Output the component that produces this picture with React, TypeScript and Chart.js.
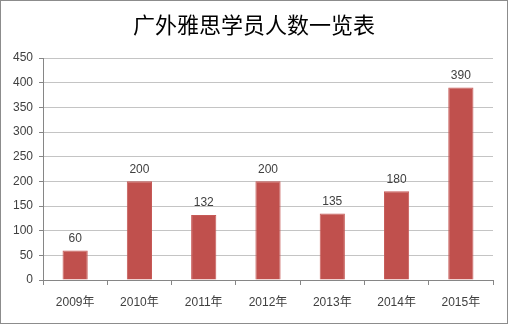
import React, { useEffect, useRef } from "react";
import { Chart, registerables } from "chart.js";

Chart.register(...registerables);

const categories = ["2009年", "2010年", "2011年", "2012年", "2013年", "2014年", "2015年"];
const students = [60, 200, 132, 200, 135, 180, 390];
const titleText = "广外雅思学员人数一览表";
const yMin = 0;
const yMax = 450;
const yStep = 50;

const FONT = '"Liberation Sans", "Noto Sans CJK SC", sans-serif';

const valueLabels = {
  id: "valueLabels",
  afterDatasetsDraw(chart: any) {
    const ctx = chart.ctx;
    const meta = chart.getDatasetMeta(0);
    const data = chart.data.datasets[0].data as number[];
    ctx.save();
    ctx.font = `12px ${FONT}`;
    ctx.fillStyle = "#404040";
    ctx.textAlign = "center";
    ctx.textBaseline = "middle";
    meta.data.forEach((bar: any, i: number) => {
      ctx.fillText(String(data[i]), bar.x, bar.y - 12);
    });
    ctx.restore();
  },
};

const centeredTitle = {
  id: "centeredTitle",
  afterDraw(chart: any) {
    const ctx = chart.ctx;
    ctx.save();
    ctx.font = `22px "Noto Sans CJK SC", sans-serif`;
    ctx.fillStyle = "#000000";
    ctx.textAlign = "center";
    ctx.textBaseline = "middle";
    ctx.fillText(titleText, chart.width / 2, 24);
    ctx.restore();
  },
};

export default function App() {
  const ref = useRef<HTMLCanvasElement>(null);
  useEffect(() => {
    document.body.style.margin = "0";
    const chart = new Chart(ref.current!, {
      type: "bar",
      data: {
        labels: categories,
        datasets: [
          {
            data: students,
            backgroundColor: "#C0504D",
            borderColor: "#C65A57",
            borderWidth: 1,
            categoryPercentage: 0.8,
            barPercentage: 0.49,
          },
        ],
      },
      options: {
        animation: false,
        responsive: false,
        maintainAspectRatio: false,
        layout: { padding: { top: 57, right: 14, left: 0, bottom: 0 } },
        plugins: {
          legend: { display: false },
          tooltip: { enabled: false },
          title: { display: false },
        },
        scales: {
          x: {
            grid: {
              display: true,
              drawOnChartArea: false,
              drawTicks: true,
              tickLength: 5,
              tickColor: "#868686",
              offset: true,
            },
            border: { display: true, color: "#868686", width: 1 },
            ticks: { color: "#404040", font: { family: FONT, size: 12 }, padding: 10, maxRotation: 0 },
            afterFit(scale: any) {
              scale.height = 43;
            },
          },
          y: {
            min: yMin,
            max: yMax,
            ticks: { stepSize: yStep, color: "#404040", font: { family: FONT, size: 12 }, padding: 6 },
            grid: { color: "#c4c4c4", tickColor: "#868686", tickLength: 4 },
            border: { display: true, color: "#868686", width: 1 },
            afterFit(scale: any) {
              scale.width = 42;
            },
          },
        },
      },
      plugins: [valueLabels, centeredTitle],
    });
    return () => chart.destroy();
  }, []);
  return (
    <div
      style={{
        position: "absolute",
        left: 0,
        top: 0,
        width: 508,
        height: 324,
        boxSizing: "border-box",
        border: "1px solid #8c8c8c",
        background: "#fff",
      }}
    >
      <canvas ref={ref} width={506} height={322} style={{ display: "block", width: 506, height: 322 }} />
    </div>
  );
}
